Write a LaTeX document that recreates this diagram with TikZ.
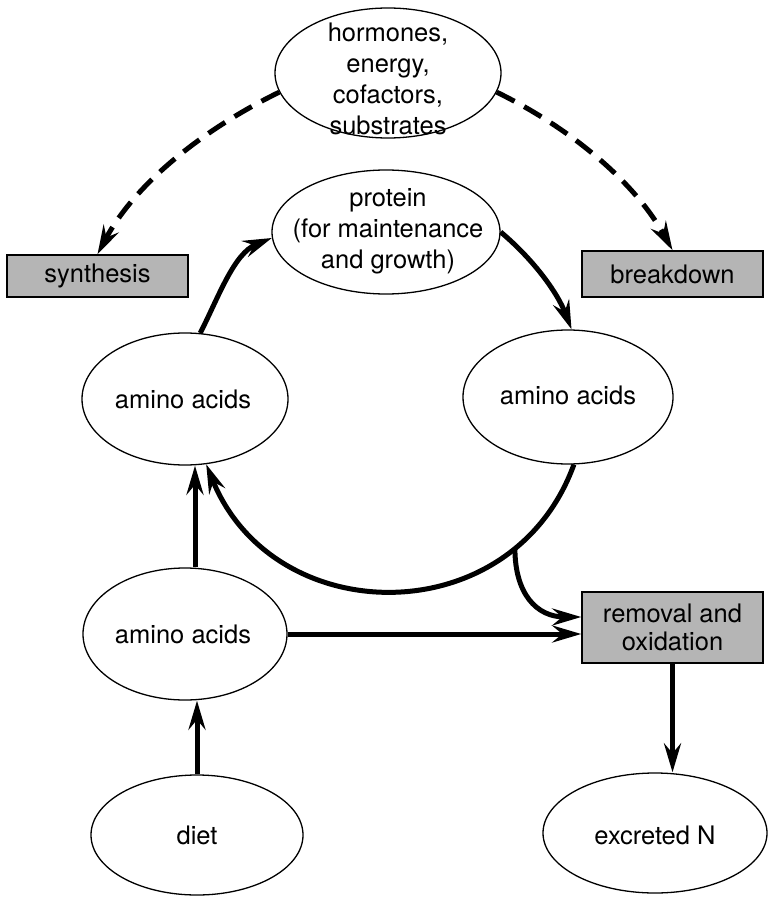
\documentclass[tikz,border=0pt]{standalone}
\usepackage{fontspec}
\setmainfont{TeX Gyre Heros}
\usetikzlibrary{shapes.geometric,arrows.meta,calc}
\begin{document}
\begin{tikzpicture}[x=1pt,y=1pt,
  oval/.style={draw, ellipse, line width=1.3pt, inner sep=0pt},
  txt/.style={align=center, font=\fontsize{25.5}{31}\selectfont, inner sep=0pt},
  shaded/.style={draw, line width=1.5pt, fill=gray!58, inner sep=0pt,
    minimum width=181pt, align=center, font=\fontsize{25.5}{28}\selectfont},
  flow/.style={line width=5pt, -{Stealth[length=29pt,width=17pt,inset=10pt]}},
  influence/.style={flow, dash pattern=on 20pt off 11pt}
]
\useasboundingbox (0,0) rectangle (781,-901);

% ellipses
\node[oval, minimum width=226pt, minimum height=130pt] (horm) at (388,-73) {};
\node[txt] (hormtxt) at (388,-79) {hormones,\\energy,\\cofactors,\\substrates};

\node[oval, minimum width=228pt, minimum height=124pt] (protein) at (386,-232) {};
\node[txt] (proteintxt) at (388,-231) {protein\\(for maintenance\\and growth)};

\node[oval, minimum width=206pt, minimum height=132pt] (aaL) at (185,-399) {};
\node[txt] (aaLtxt) at (183,-399) {amino acids};

\node[oval, minimum width=210pt, minimum height=134pt] (aaR) at (568,-397) {};
\node[txt] (aaRtxt) at (568,-395) {amino acids};

\node[oval, minimum width=204pt, minimum height=132pt] (aaLow) at (185,-634) {};
\node[txt] (aaLowtxt) at (183,-634) {amino acids};

\node[oval, minimum width=212pt, minimum height=120pt] (diet) at (197,-835) {};
\node[txt] (diettxt) at (197,-835) {diet};

\node[oval, minimum width=224pt, minimum height=120pt] (exc) at (655,-833) {};
\node[txt] (exctxt) at (655,-835) {excreted N};

% shaded process boxes
\node[shaded, minimum height=42pt] (syn) at (97.5,-276) {synthesis};
\node[shaded, minimum height=46pt] (brk) at (672.5,-274) {breakdown};
\node[shaded, minimum height=71pt] (rem) at (672.5,-627.5) {removal and\\oxidation};

% regulating influences
\draw[influence] (horm.190) .. controls +(206:82) and +(62:82) .. (syn.north);
\draw[influence] (horm.-10) .. controls +(-26:80) and +(119:80) .. (brk.north);

% turnover cycle
\draw[flow] (aaL.77) .. controls +(63:41) and +(202:41) .. (protein.183);
\draw[flow] (protein.0) .. controls +(-40:41) and +(111:41) .. (aaR.87);
\draw[flow] (aaR.-85) .. controls +(-110:180) and +(-68:180) .. (aaL.-72)
  coordinate[pos=0.21] (fork);

% supply and loss
\draw[flow] (fork) .. controls +(0,-45) and +(-45,0) .. ([yshift=10.5pt]rem.west);
\draw[flow] (aaLow.east) -- (aaLow.east -| rem.west);
\draw[flow] ([xshift=10pt]aaLow.north) -- ([xshift=10pt]aaLow.north |- aaL.south);
\draw[flow] (diet.north) -- (diet.north |- aaLow.south);
\draw[flow] (rem.south) -- (rem.south |- exc.north);
\end{tikzpicture}
\end{document}
